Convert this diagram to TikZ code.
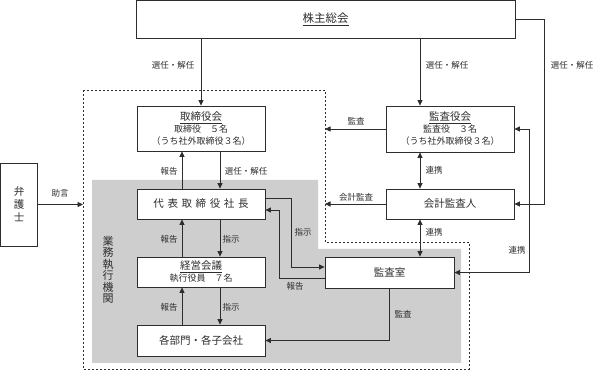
\documentclass[tikz,border=0pt]{standalone}
\usepackage{fontspec}
\setmainfont{Noto Sans CJK JP}
\usetikzlibrary{arrows.meta,calc}
\definecolor{lc}{RGB}{45,45,45}
\definecolor{bg}{RGB}{206,206,206}
\begin{document}
\begin{tikzpicture}[x=1pt,y=-1pt,
  box/.style={draw=lc,fill=white,line width=0.8pt,inner sep=0pt,align=center,
    font=\fontsize{10.5}{12}\selectfont,text=lc},
  sub/.style={},
  tip/.tip={Triangle[length=5.5pt,width=5pt]},
  arr/.style={draw=lc,line width=0.8pt,-tip},
  darr/.style={draw=lc,line width=0.8pt,tip-tip},
  lab/.style={font=\fontsize{8.5}{10}\selectfont,inner sep=0pt,text=lc}]
\useasboundingbox (0,0) rectangle (595,371);
% regions
\fill[bg] (92,180) -- (318,180) -- (318,249) -- (461,249) -- (461,363) -- (92,363) -- cycle;
\draw[lc,line width=0.8pt,dash pattern=on 2pt off 2pt]
  (83,90) -- (325,90) -- (325,242) -- (469,242) -- (469,369) -- (83,369) -- cycle;
\coordinate (dl) at (83,204.5);
\coordinate (dr) at (325,0);
% nodes
\node[box,minimum width=379pt,minimum height=37.5pt,font=\fontsize{11.5}{13}\selectfont] (share) at (325.5,19.25) {\underline{株主総会}};
\node[box,minimum width=128pt,minimum height=45pt] (board) at (201,128.5)
  {\underline{取締役会}\\{\fontsize{9}{12}\selectfont 取締役　５名}\\{\fontsize{9}{12}\selectfont （うち社外取締役３名）}};
\node[box,minimum width=128pt,minimum height=30pt] (ceo) at (201,204) {代\kern3.6pt 表\kern3.6pt 取\kern3.6pt 締\kern3.6pt 役\kern3.6pt 社\kern3.6pt 長};
\node[box,minimum width=128pt,minimum height=30pt] (mgmt) at (201,272)
  {\underline{経営会議}\\{\fontsize{9}{12}\selectfont 執行役員　７名}};
\node[box,minimum width=128pt,minimum height=31pt] (dept) at (201,340.5) {各部門・各子会社};
\node[box,minimum width=37pt,minimum height=83pt,font=\fontsize{10.5}{13}\selectfont] (lawyer) at (19,204.5) {弁\\護\\士};
\node[box,minimum width=128pt,minimum height=46pt] (kansa) at (450,129)
  {\underline{監査役会}\\{\fontsize{9}{12}\selectfont 監査役　３名}\\{\fontsize{9}{12}\selectfont （うち社外取締役３名）}};
\node[box,minimum width=128pt,minimum height=30pt] (auditor) at (450,204) {会計監査人};
\node[box,minimum width=129pt,minimum height=31pt] (internal) at (389.5,272.5) {監査室};
\node[font=\fontsize{11}{11.5}\selectfont,align=center,inner sep=0pt,text=lc] (gyomu) at (108,270) {業\\務\\執\\行\\機\\関};
% connectors
\draw[arr] (board.north |- share.south) -- (board.north);
\draw[arr] ($(kansa.north)+(-30,0)$) coordinate (kt) ++(0,0) (kt |- share.south) -- (kt);
\coordinate (r1) at (544,19.25);
\draw[arr] (share.east) -- (r1) |- (auditor.east);
\draw[darr] (kansa.east) -- ++(15,0) |- (internal.east);
\draw[arr] (lawyer.east) -- (dl);
\draw[arr] (kansa.west) -- (kansa.west -| dr);
\draw[arr] (auditor.west) -- (auditor.west -| dr);
\draw[arr] ($(ceo.north)+(-19,0)$) -- ($(board.south)+(-19,0)$);
\draw[arr] ($(board.south)+(19,0)$) -- ($(ceo.north)+(19,0)$);
\draw[arr] ($(mgmt.north)+(-19,0)$) -- ($(ceo.south)+(-19,0)$);
\draw[arr] ($(ceo.south)+(19,0)$) -- ($(mgmt.north)+(19,0)$);
\draw[arr] ($(dept.north)+(-19,0)$) -- ($(mgmt.south)+(-19,0)$);
\draw[arr] ($(mgmt.south)+(19,0)$) -- ($(dept.north)+(19,0)$);
\draw[darr] ($(kansa.south)+(-30,0)$) -- ($(auditor.north)+(-30,0)$);
\draw[darr] ($(auditor.south)+(-30,0)$) coordinate (t) -- (t |- internal.north);
\draw[arr] ($(ceo.east)+(0,-6)$) -- ++(26,0) |- ($(internal.west)+(0,-5.5)$);
\draw[arr] ($(internal.west)+(0,5.5)$) -- ++(-45,0) |- ($(ceo.east)+(0,6)$);
\draw[arr] (internal.south) |- (dept.east);
% labels
\node[lab] at (173,65) {選任・解任};
\node[lab] at (447,65) {選任・解任};
\node[lab] at (572,65) {選任・解任};
\node[lab] at (60,193) {助言};
\node[lab] at (169,171) {報告};
\node[lab] at (246,171) {選任・解任};
\node[lab] at (169,239) {報告};
\node[lab] at (231,239) {指示};
\node[lab] at (169,307) {報告};
\node[lab] at (231,307) {指示};
\node[lab] at (356,121) {監査};
\node[lab] at (356,197) {会計監査};
\node[lab] at (434,170) {連携};
\node[lab] at (434,232) {連携};
\node[lab] at (517,250) {連携};
\node[lab] at (303,232) {指示};
\node[lab] at (295,286) {報告};
\node[lab] at (403,314) {監査};
\end{tikzpicture}
\end{document}
